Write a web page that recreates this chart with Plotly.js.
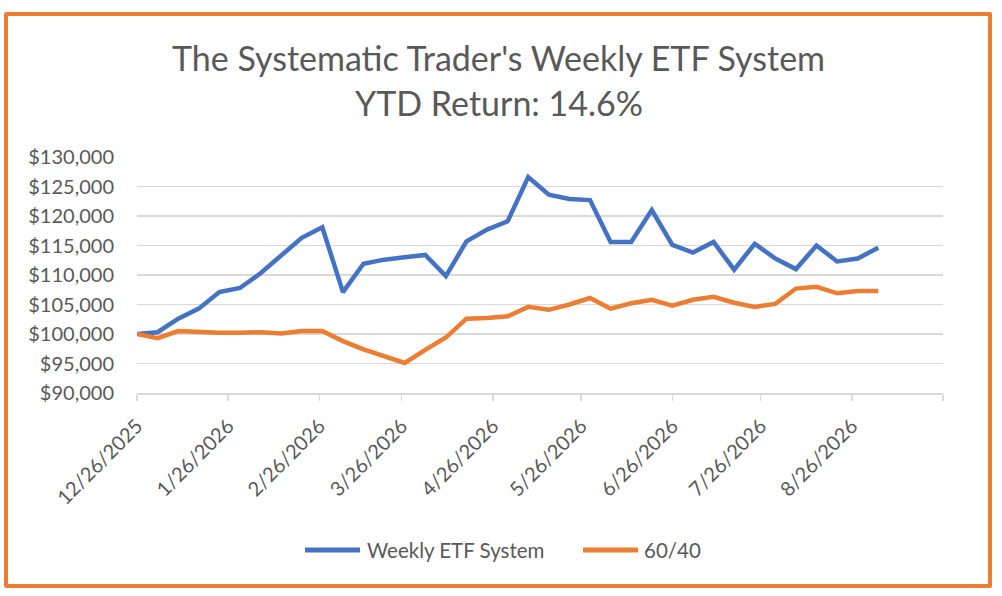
<!DOCTYPE html>
<html>
<head>
<meta charset="utf-8">
<script src="https://cdn.plot.ly/plotly-3.0.1.min.js"></script>
<style>
    body { margin: 0; background: #ffffff; }
    #myDiv { width: 1002px; height: 596px; position: absolute; left: 0; top: 0; }
    #frame {
        position: absolute; left: 4px; top: 12px; width: 980px; height: 568px;
        border: 4.5px solid #ED7D31; border-radius: 2px; pointer-events: none;
    }
</style>
</head>
<body>
<div id="myDiv"></div>
<div id="frame"></div>
<script>
// Fechas semanales (viernes)
const weeks = [
    '2025-12-26', '2026-01-02', '2026-01-09', '2026-01-16', '2026-01-23', '2026-01-30',
    '2026-02-06', '2026-02-13', '2026-02-20', '2026-02-27', '2026-03-06', '2026-03-13',
    '2026-03-20', '2026-03-27', '2026-04-03', '2026-04-10', '2026-04-17', '2026-04-24',
    '2026-05-01', '2026-05-08', '2026-05-15', '2026-05-22', '2026-05-29', '2026-06-05',
    '2026-06-12', '2026-06-19', '2026-06-26', '2026-07-03', '2026-07-10', '2026-07-17',
    '2026-07-24', '2026-07-31', '2026-08-07', '2026-08-14', '2026-08-21', '2026-08-28',
    '2026-09-04'
];

const weeklyEtf = [
    100000, 100300, 102600, 104300, 107100, 107800, 110300, 113400, 116300, 118100,
    107100, 111900, 112600, 113000, 113400, 109800, 115700, 117700, 119100, 126600,
    123600, 122900, 122700, 115600, 115600, 121000, 115100, 113800, 115600, 110900,
    115300, 112800, 111000, 115000, 112300, 112800, 114600
];

const sixtyForty = [
    100000, 99300, 100500, 100300, 100200, 100200, 100300, 100100, 100500, 100500,
    98800, 97400, 96200, 95100, 97300, 99400, 102600, 102700, 103000, 104600,
    104100, 105000, 106100, 104300, 105200, 105800, 104800, 105800, 106300, 105300,
    104600, 105100, 107700, 108000, 106900, 107300, 107300
];

// Etiquetas del eje x (una por mes)
const tickDates = [
    '2025-12-26', '2026-01-26', '2026-02-26', '2026-03-26', '2026-04-26',
    '2026-05-26', '2026-06-26', '2026-07-26', '2026-08-26', '2026-09-26'
];
const tickLabels = [
    '12/26/2025', '1/26/2026', '2/26/2026', '3/26/2026', '4/26/2026',
    '5/26/2026', '6/26/2026', '7/26/2026', '8/26/2026', ''
];

const titleLine1 = "The Systematic Trader's Weekly ETF System";
const titleLine2 = 'YTD Return: 14.6%';

const seriesNames = ['Weekly ETF System', '60/40'];
const seriesColors = ['#4472C4', '#ED7D31'];

const fontFamily = 'Lato, "Open Sans", sans-serif';
const textGrey = '#595959';

let traceEtf = {
    x: weeks,
    y: weeklyEtf,
    mode: 'lines',
    type: 'scatter',
    name: seriesNames[0],
    hoverinfo: 'none',
    line: { width: 4.5, color: seriesColors[0] }
};

let trace6040 = {
    x: weeks,
    y: sixtyForty,
    mode: 'lines',
    type: 'scatter',
    name: seriesNames[1],
    hoverinfo: 'none',
    line: { width: 4.5, color: seriesColors[1] }
};

// Leyenda al estilo Excel: muestra de línea larga + texto
const legendY = -0.665;
const legendLines = [[0.2084, 0.2767], [0.5533, 0.6216]];
const legendTextX = [0.2829, 0.6266];

let legendShapes = legendLines.map((seg, i) => ({
    type: 'line', xref: 'paper', yref: 'paper',
    x0: seg[0], x1: seg[1], y0: legendY, y1: legendY,
    line: { color: seriesColors[i], width: 5 }
}));

let legendTexts = seriesNames.map((name, i) => ({
    text: name, xref: 'paper', yref: 'paper',
    x: legendTextX[i], y: legendY, xanchor: 'left', yanchor: 'middle',
    showarrow: false, font: { family: fontFamily, size: 20.5, color: textGrey }
}));

let layout = {
    paper_bgcolor: '#ffffff',
    plot_bgcolor: '#ffffff',
    font: { family: fontFamily, color: textGrey },
    // Título en dos líneas, como anotaciones para controlar el interlineado
    annotations: [
        {
            text: titleLine1, xref: 'paper', yref: 'paper',
            x: 0.449, y: 1.42, xanchor: 'center', yanchor: 'middle',
            showarrow: false, font: { family: fontFamily, size: 34, color: textGrey }
        },
        {
            text: titleLine2, xref: 'paper', yref: 'paper',
            x: 0.449, y: 1.233, xanchor: 'center', yanchor: 'middle',
            showarrow: false, font: { family: fontFamily, size: 34, color: textGrey }
        }
    ].concat(legendTexts),
    shapes: legendShapes,
    xaxis: {
        type: 'date',
        range: ['2025-12-26', '2026-09-26'],
        tickvals: tickDates,
        ticktext: tickLabels,
        tickangle: -45,
        tickfont: { size: 20, color: textGrey },
        ticklabelstandoff: 6,
        showgrid: false,
        zeroline: false,
        showline: true,
        linecolor: '#D9D9D9',
        linewidth: 1.5,
        ticks: 'outside',
        ticklen: 6,
        tickcolor: '#D9D9D9',
        tickwidth: 1.5,
        fixedrange: true
    },
    yaxis: {
        range: [90000, 130000],
        dtick: 5000,
        tick0: 90000,
        tickprefix: '$',
        tickformat: ',.0f',
        tickfont: { size: 20, color: textGrey },
        showgrid: true,
        gridcolor: '#D9D9D9',
        gridwidth: 1.5,
        zeroline: false,
        showline: false,
        ticks: '',
        ticklabelstandoff: 22,
        fixedrange: true
    },
    showlegend: false,
    margin: { l: 137, r: 59, t: 157, b: 203, pad: 0 }
};

Plotly.newPlot('myDiv', [traceEtf, trace6040], layout, { displayModeBar: false, staticPlot: true });
</script>
</body>
</html>
